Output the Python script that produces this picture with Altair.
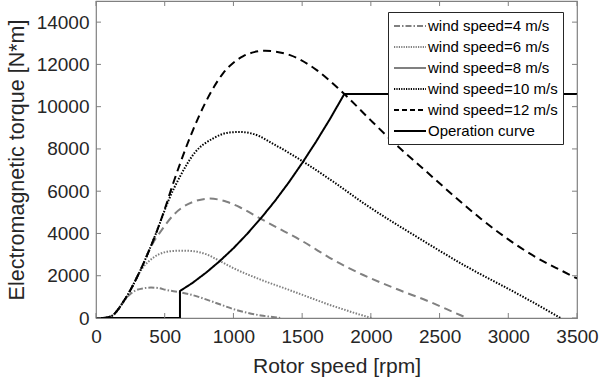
import altair as alt
import pandas as pd

# ---- data ----
w4_rpm = [50, 90, 125, 160, 200, 240, 290, 350, 400, 450, 510, 610, 700, 800, 900, 1000, 1100, 1200, 1300, 1340]
w4_tq = [0, 40, 140, 400, 780, 1070, 1310, 1410, 1440, 1420, 1330, 1215, 1090, 880, 650, 420, 250, 120, 35, 0]

w6_rpm = [50, 90, 125, 160, 200, 240, 270, 300, 340, 380, 460, 560, 630, 710, 800, 900, 1000, 1200, 1400, 1600, 1700, 1800, 1900, 2006]
w6_tq = [0, 40, 140, 400, 780, 1200, 1560, 1950, 2380, 2660, 3020, 3170, 3185, 3160, 3020, 2700, 2360, 1810, 1340, 860, 620, 410, 200, 0]

w8_rpm = [50, 90, 125, 160, 200, 240, 270, 300, 340, 380, 415, 466, 563, 708, 830, 951, 1050, 1193, 1350, 1485, 1600, 1700, 1945, 2188, 2431, 2649, 2700]
w8_tq = [0, 40, 140, 400, 780, 1200, 1560, 1950, 2500, 3100, 3550, 4050, 4870, 5500, 5650, 5500, 5230, 4715, 4165, 3700, 3250, 2850, 2034, 1370, 760, 140, 0]

w10_rpm = [50, 90, 125, 160, 200, 240, 270, 300, 340, 380, 415, 441, 470, 530, 610, 720, 853, 975, 1048, 1150, 1300, 1400, 1509, 1727, 1950, 2333, 2698, 3061, 3364, 3380]
w10_tq = [0, 40, 140, 400, 780, 1200, 1560, 1950, 2500, 3100, 3650, 4080, 4580, 5600, 6680, 7830, 8500, 8783, 8800, 8700, 8200, 7830, 7393, 6447, 5420, 3845, 2427, 1168, 61, 0]

w12_rpm = [50, 90, 125, 160, 200, 240, 270, 300, 340, 380, 415, 441, 500, 563, 620, 660, 708, 793, 860, 927, 1000, 1072, 1150, 1230, 1412, 1606, 1763, 1807, 2000, 2200, 2400, 2600, 2800, 3000, 3200, 3400, 3500]
w12_tq = [0, 40, 140, 400, 780, 1200, 1560, 1950, 2500, 3100, 3650, 4080, 5150, 6400, 7450, 8150, 8930, 10150, 10950, 11600, 12080, 12393, 12580, 12643, 12440, 11730, 10865, 10600, 9350, 8100, 6950, 5800, 4700, 3720, 2880, 2200, 1870]

op_rpm = [0, 611, 611, 700, 800, 900, 1000, 1100, 1200, 1300, 1400, 1500, 1600, 1700, 1807, 3500]
op_tq = [0, 0, 1277, 1650, 2140, 2690, 3300, 3980, 4720, 5520, 6390, 7330, 8330, 9390, 10600, 10600]

series_names = ["wind speed=4 m/s", "wind speed=6 m/s", "wind speed=8 m/s",
                "wind speed=10 m/s", "wind speed=12 m/s", "Operation curve"]
series_colors = ["#808080", "#808080", "#808080", "#000000", "#000000", "#000000"]
legend_dashes = [[6, 2, 1.5, 2], [1.2, 1.2], [1, 0], [1.2, 1.2], [5, 3], [1, 0]]
plot_dashes = [[6, 2, 1.5, 2], [1.5, 1.5], [8, 5], [1.5, 1.5], [8, 5], [1, 0]]

x_ticks = [0, 500, 1000, 1500, 2000, 2500, 3000, 3500]
y_ticks = [0, 2000, 4000, 6000, 8000, 10000, 12000, 14000]

curves = [(w4_rpm, w4_tq), (w6_rpm, w6_tq), (w8_rpm, w8_tq),
          (w10_rpm, w10_tq), (w12_rpm, w12_tq), (op_rpm, op_tq)]

rows = []
for name, (xs, ys) in zip(series_names, curves):
    for i, (a, b) in enumerate(zip(xs, ys)):
        rows.append({"series": name, "rpm": a, "torque": b, "order": i})
df = pd.DataFrame(rows)

FONT = "Liberation Sans"
TXT = "#262626"
AX = "#808080"
W, H = 481, 317

xscale = alt.Scale(domain=[0, 3500], nice=False)
yscale = alt.Scale(domain=[0, 15000], nice=False)

xenc = alt.X("rpm:Q", scale=xscale,
             axis=alt.Axis(values=x_ticks, format="d", title="Rotor speed [rpm]", grid=False,
                           domain=False, ticks=False, labelFontSize=19, titleFontSize=21,
                           labelPadding=9, titlePadding=9, labelColor=TXT, titleColor=TXT,
                           labelFlush=False, labelOverlap=False,
                           titleFontWeight="normal", labelFont=FONT, titleFont=FONT))
yenc = alt.Y("torque:Q", scale=yscale,
             axis=alt.Axis(values=y_ticks, format="d", title="Electromagnetic torque [N*m]", grid=False,
                           domain=False, ticks=False, labelFontSize=19, titleFontSize=21.5,
                           labelPadding=7, titlePadding=8, labelColor=TXT, titleColor=TXT,
                           labelFlush=False, labelOverlap=False,
                           titleFontWeight="normal", labelFont=FONT, titleFont=FONT))

base = alt.Chart(df)
layers = []
for name, col, dash in zip(series_names, series_colors, plot_dashes):
    interp = "linear" if name == "Operation curve" else "monotone"
    layers.append(
        base.transform_filter(alt.datum.series == name)
        .mark_line(color=col, strokeDash=dash, strokeWidth=2, clip=True, interpolate=interp)
        .encode(x=xenc, y=yenc, order="order:Q")
    )

# legend carrier layer (drawn outside the plot and clipped away)
leg_df = pd.DataFrame({"series": series_names * 2,
                       "rpm": [100] * 6 + [200] * 6,
                       "torque": [-5000] * 12})
legend_layer = alt.Chart(leg_df).mark_line(strokeWidth=2, clip=True).encode(
    x=alt.X("rpm:Q", scale=xscale),
    y=alt.Y("torque:Q", scale=yscale),
    color=alt.Color("series:N", scale=alt.Scale(domain=series_names, range=series_colors),
                    sort=series_names,
                    legend=alt.Legend(title=None, orient="none", legendX=292, legendY=11,
                                      symbolType="M-1,0H3", symbolSize=256, symbolStrokeWidth=2,
                                      labelFontSize=15, labelFont=FONT, labelColor="#000000",
                                      labelOffset=17, rowPadding=4, padding=5,
                                      strokeColor="#262626", fillColor="#ffffff",
                                      labelLimit=400)),
    strokeDash=alt.StrokeDash("series:N", scale=alt.Scale(domain=series_names, range=legend_dashes),
                              sort=series_names, legend=alt.Legend(title=None)),
)

# inward tick marks on all four sides of the box
xt = pd.DataFrame({"rpm": x_ticks})
yt = pd.DataFrame({"torque": y_ticks})
tick_x_bottom = alt.Chart(xt).mark_rule(color=AX, strokeWidth=1).encode(
    x=alt.X("rpm:Q", scale=xscale), y=alt.value(H), y2=alt.value(H - 5))
tick_x_top = alt.Chart(xt).mark_rule(color=AX, strokeWidth=1).encode(
    x=alt.X("rpm:Q", scale=xscale), y=alt.value(0), y2=alt.value(5))
tick_y_left = alt.Chart(yt).mark_rule(color=AX, strokeWidth=1).encode(
    y=alt.Y("torque:Q", scale=yscale), x=alt.value(0), x2=alt.value(5))
tick_y_right = alt.Chart(yt).mark_rule(color=AX, strokeWidth=1).encode(
    y=alt.Y("torque:Q", scale=yscale), x=alt.value(W), x2=alt.value(W - 5))

chart = alt.layer(*layers, legend_layer, tick_x_bottom, tick_x_top, tick_y_left, tick_y_right).properties(
    width=W, height=H,
    autosize=alt.AutoSizeParams(type="none"),
    padding={"left": 96, "top": 1, "right": 25, "bottom": 67},
    background="white",
).configure_view(stroke=AX, strokeWidth=1.2)

chart.save("out.html", embed_options={"renderer": "svg", "actions": False})
